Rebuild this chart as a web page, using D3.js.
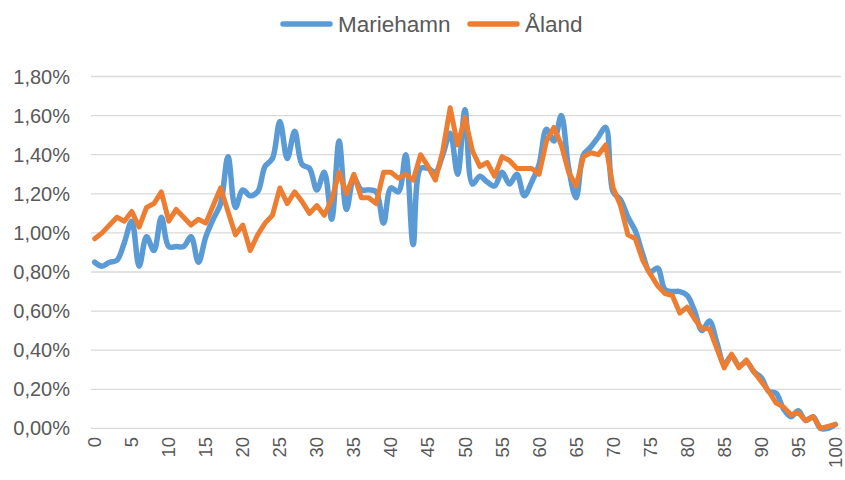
<!DOCTYPE html>
<html>
<head>
<meta charset="utf-8">
<script src="https://cdn.jsdelivr.net/npm/d3@7"></script>
<style>
  html, body { margin: 0; padding: 0; background: #fff; }
  svg { display: block; }
  text { font-family: "Liberation Sans", Arial, sans-serif; fill: #595959; }
</style>
</head>
<body>
<svg id="chart" width="845" height="480"></svg>
<script>
// ---- data ----
const ages = d3.range(0, 101);
const seriesNames = ["Mariehamn", "Åland"];
const mariehamn = [
  0.85, 0.83, 0.85, 0.86, 0.95, 1.06, 0.83, 0.98, 0.91, 1.08,
  0.93, 0.93, 0.93, 0.98, 0.85, 0.98, 1.07, 1.15, 1.39, 1.13,
  1.22, 1.19, 1.21, 1.34, 1.38, 1.57, 1.38, 1.52, 1.35, 1.33,
  1.22, 1.31, 1.07, 1.47, 1.12, 1.28, 1.22, 1.22, 1.21, 1.05,
  1.23, 1.21, 1.40, 0.94, 1.33, 1.33, 1.31, 1.40, 1.51, 1.30,
  1.63, 1.25, 1.29, 1.26, 1.24, 1.31, 1.25, 1.30, 1.19, 1.26,
  1.35, 1.53, 1.47, 1.60, 1.33, 1.18, 1.40, 1.44, 1.49, 1.54,
  1.21, 1.17, 1.08, 1.01, 0.89, 0.80, 0.82, 0.71, 0.70, 0.70,
  0.68, 0.60, 0.50, 0.55, 0.44, 0.33, 0.37, 0.32, 0.34, 0.29,
  0.26, 0.19, 0.18, 0.10, 0.06, 0.09, 0.04, 0.06, 0.00, 0.00,
  0.02
];
const aland = [
  0.97, 1.00, 1.04, 1.08, 1.06, 1.11, 1.03, 1.13, 1.15, 1.21,
  1.06, 1.12, 1.08, 1.04, 1.07, 1.05, 1.14, 1.23, 1.11, 0.99,
  1.04, 0.91, 0.99, 1.05, 1.09, 1.23, 1.15, 1.21, 1.16, 1.10,
  1.14, 1.09, 1.17, 1.31, 1.20, 1.30, 1.18, 1.18, 1.15, 1.31,
  1.31, 1.28, 1.30, 1.27, 1.40, 1.34, 1.27, 1.42, 1.64, 1.45,
  1.59, 1.42, 1.34, 1.36, 1.29, 1.39, 1.37, 1.33, 1.33, 1.33,
  1.30, 1.47, 1.54, 1.45, 1.31, 1.24, 1.39, 1.41, 1.40, 1.45,
  1.23, 1.14, 0.99, 0.97, 0.86, 0.79, 0.73, 0.69, 0.68, 0.59,
  0.62, 0.56, 0.51, 0.51, 0.41, 0.31, 0.38, 0.31, 0.35, 0.29,
  0.24, 0.19, 0.13, 0.11, 0.07, 0.08, 0.04, 0.06, 0.00, 0.01,
  0.02
];
const yTicks = [0, 0.2, 0.4, 0.6, 0.8, 1.0, 1.2, 1.4, 1.6, 1.8];
const xTicks = d3.range(0, 101, 5);
const colors = ["#5B9BD5", "#ED7D31"];

// ---- layout ----
const svg = d3.select("#chart");
const plotLeft = 91, plotRight = 839, plotTop = 76.5, plotBottom = 428.4;

const x = d3.scaleLinear().domain([-0.5, 100.5]).range([plotLeft, plotRight]);
const y = d3.scaleLinear().domain([0, 1.8]).range([plotBottom, plotTop]);

const fmt = v => d3.format(".2f")(v).replace(".", ",") + "%";

// gridlines
svg.append("g").selectAll("line").data(yTicks).join("line")
  .attr("x1", plotLeft).attr("x2", plotRight + 2)
  .attr("y1", d => y(d)).attr("y2", d => y(d))
  .attr("stroke", "#D9D9D9").attr("stroke-width", 1.3);

// y labels
svg.append("g").selectAll("text").data(yTicks).join("text")
  .attr("x", 70).attr("y", d => y(d))
  .attr("text-anchor", "end").attr("dominant-baseline", "central")
  .attr("font-size", 20)
  .text(fmt);

// x labels (rotated)
svg.append("g").selectAll("text").data(xTicks).join("text")
  .attr("transform", d => `translate(${x(d)},437) rotate(-90)`)
  .attr("text-anchor", "end").attr("dominant-baseline", "central")
  .attr("font-size", 18.5)
  .text(d => d);

// lines
const lineSmooth = d3.line()
  .x((d, i) => x(ages[i])).y(d => y(d))
  .curve(d3.curveCatmullRom.alpha(0.5));
const lineStraight = d3.line()
  .x((d, i) => x(ages[i])).y(d => y(d));

svg.append("path").datum(mariehamn)
  .attr("d", lineSmooth)
  .attr("fill", "none").attr("stroke", colors[0])
  .attr("stroke-width", 5.5).attr("stroke-linejoin", "round").attr("stroke-linecap", "round");

svg.append("path").datum(aland)
  .attr("d", lineStraight)
  .attr("fill", "none").attr("stroke", colors[1])
  .attr("stroke-width", 5).attr("stroke-linejoin", "round").attr("stroke-linecap", "round");

// legend
const legendItems = [
  { name: seriesNames[0], color: colors[0], x: 283 },
  { name: seriesNames[1], color: colors[1], x: 470 }
];
const lg = svg.append("g").selectAll("g").data(legendItems).join("g")
  .attr("transform", d => `translate(${d.x},24)`);
lg.append("line").attr("x1", 0).attr("x2", 47).attr("y1", 0).attr("y2", 0)
  .attr("stroke", d => d.color).attr("stroke-width", 5.5).attr("stroke-linecap", "round");
lg.append("text").attr("x", 55).attr("y", 0)
  .attr("dominant-baseline", "central").attr("font-size", 22.5)
  .text(d => d.name);
</script>
</body>
</html>
